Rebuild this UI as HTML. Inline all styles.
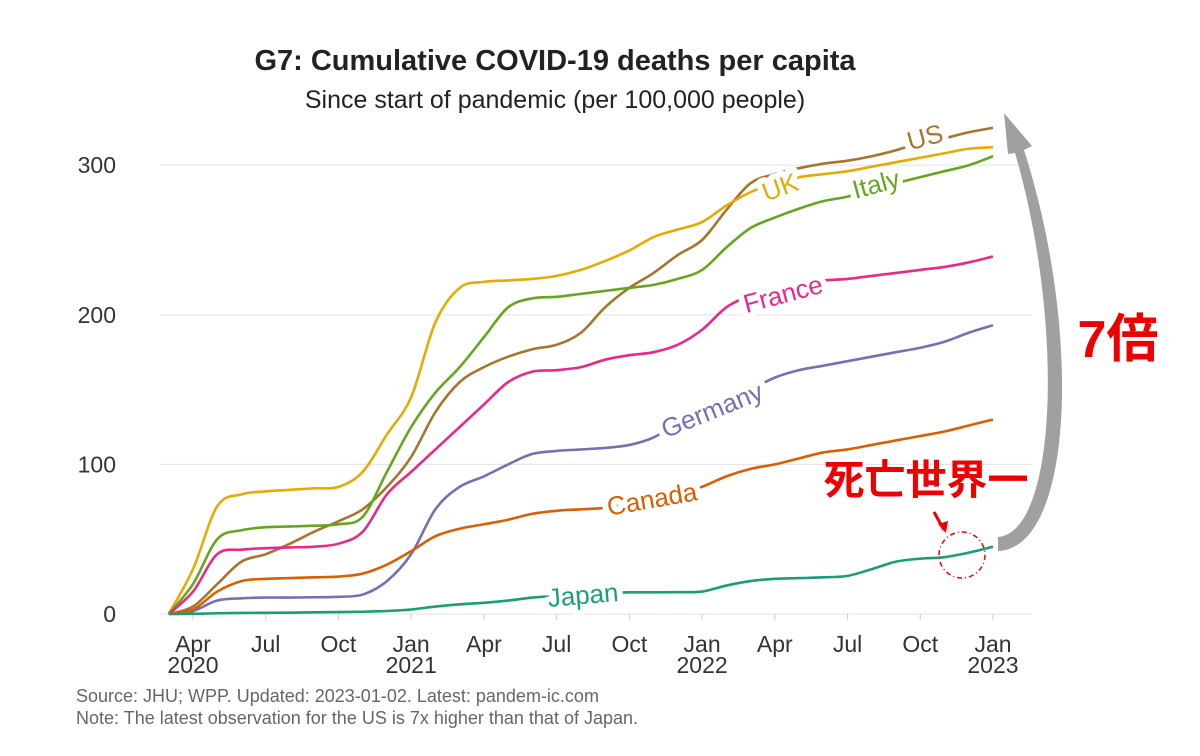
<!DOCTYPE html>
<html><head><meta charset="utf-8"><style>
body{margin:0;background:#fff}
svg{display:block;font-family:"Liberation Sans","Noto Sans CJK JP",sans-serif}
</style></head><body>
<svg width="1200" height="756" viewBox="0 0 1200 756">
<text x="555" y="70" text-anchor="middle" font-size="29" font-weight="bold" fill="#222">G7: Cumulative COVID-19 deaths per capita</text>
<text x="555" y="108" text-anchor="middle" font-size="25" fill="#222">Since start of pandemic (per 100,000 people)</text>
<g id="grid"></g><g id="axes"></g><g id="lines"></g><g id="labels"></g>
<text x="76" y="702" font-size="18" fill="#666">Source: JHU; WPP. Updated: 2023-01-02. Latest: pandem-ic.com</text>
<text x="76" y="724" font-size="18" fill="#666">Note: The latest observation for the US is 7x higher than that of Japan.</text>
<path d="M998,551 C1074,548 1082,330 1024,150 L1032,146 L1004,113 L1008,154 L1015,153 C1064,320 1058,532 998,537 Z" fill="#a0a0a0"/>
<text x="1118" y="357" text-anchor="middle" font-size="52" font-weight="bold" fill="#e00">7倍</text>
<text x="926" y="494" text-anchor="middle" font-size="41" font-weight="bold" fill="#e00">死亡世界一</text>
<path d="M934,512 L944,530" stroke="#e00" stroke-width="3"/>
<path d="M938,524 L946,533 L948,521 Z" fill="#e00"/>
<circle cx="962" cy="555" r="23" fill="none" stroke="#e00" stroke-width="1.5" stroke-dasharray="5,3,1,3"/>
</svg>
<script>
const yTicks=[0,100,200,300];
const xTickLabels=[["Apr","2020"],["Jul",""],["Oct",""],["Jan","2021"],["Apr",""],["Jul",""],["Oct",""],["Jan","2022"],["Apr",""],["Jul",""],["Oct",""],["Jan","2023"]];
const xTickMonths=[3,6,9,12,15,18,21,24,27,30,33,36];
const months=[2,3,4,5,6,7,8,9,10,11,12,13,14,15,16,17,18,19,20,21,22,23,24,25,26,27,28,29,30,31,32,33,34,35,36];
const us=[0,5,20,35,40,47,55,62,70,85,105,135,155,165,172,177,180,188,205,218,228,240,250,270,288,294,298,301,303,306,310,315,318,322,325];
const uk=[0,30,72,80,82,83,84,85,95,120,145,195,218,222,223,224,226,230,236,243,252,257,262,273,282,288,292,294,296,299,302,305,308,311,312];
const italy=[0,20,50,56,58,58.5,59,60,65,95,125,148,165,185,205,211,212,214,216,218,220,224,230,245,258,265,271,276,279,284,288,292,296,300,306];
const france=[0,15,40,43,44,44.5,45,47,55,80,95,110,125,140,155,162,163,165,170,173,175,180,190,205,213,218,221,223,224,226,228,230,232,235,239];
const germany=[0,2,9,10.5,11,11,11.2,11.5,13,22,40,70,85,92,100,107,109,110,111,113,118,128,137,143,150,158,163,166,169,172,175,178,182,188,193];
const canada=[0,3,15,22,23.5,24,24.5,25,27,33,42,52,57,60,63,67,69,70,71,74,77,80,85,92,97,100,104,108,110,113,116,119,122,126,130];
const japan=[0,0.1,0.5,0.7,0.8,0.9,1.1,1.3,1.5,2,3,5,6.5,7.5,9,11,12,12.5,14,14.5,14.5,14.6,15,19,22,23.5,24,24.5,25.5,30,35,37,38,41,45];
const seriesNames=["US","UK","Italy","France","Germany","Canada","Japan"];
const seriesData=[us,uk,italy,france,germany,canada,japan];
const colors=["#a6762c","#e6ab02","#66a61e","#e7298a","#7570b3","#d95f02","#1b9e77"];
const labelPos=[[925,146,-15],[780,196,-20],[876,193,-15],[783,303,-15],[712,419,-22],[652,508,-10],[583,604,-5]];
const X=m=>193+(m-3)*24.242, Y=v=>614-v*1.496;
const NS="http://www.w3.org/2000/svg";
function mk(t,a,p){const e=document.createElementNS(NS,t);for(const k in a)e.setAttribute(k,a[k]);p.appendChild(e);return e;}
const grid=document.getElementById('grid'),axes=document.getElementById('axes'),lines=document.getElementById('lines'),labels=document.getElementById('labels');
yTicks.forEach(v=>{
 const l=mk('line',{x1:160,x2:1032,y1:Y(v),y2:Y(v),stroke:'#e6e6e6','stroke-width':1.2},grid);
 
 
 const t=mk('text',{x:116,y:Y(v)+8,'text-anchor':'end','font-size':23,fill:'#333'},axes);t.textContent=v;
 
 
});
xTickMonths.forEach((m,i)=>{
 const tk=mk('line',{x1:X(m),x2:X(m),y1:614,y2:620,stroke:'#ccc'},axes);
 
 
 const t=mk('text',{x:X(m),y:652,'text-anchor':'middle','font-size':23,fill:'#333'},axes);t.textContent=xTickLabels[i][0];
 
 
 if(xTickLabels[i][1]){const t2=mk('text',{x:X(m),y:673,'text-anchor':'middle','font-size':23,fill:'#333'},axes);t2.textContent=xTickLabels[i][1];
 
 }
});
function smooth(pts){let d=`M${pts[0][0]},${pts[0][1]}`;for(let i=0;i<pts.length-1;i++){const p0=pts[Math.max(0,i-1)],p1=pts[i],p2=pts[i+1],p3=pts[Math.min(pts.length-1,i+2)];
 d+=` C${p1[0]+(p2[0]-p0[0])/6},${p1[1]+(p2[1]-p0[1])/6} ${p2[0]-(p3[0]-p1[0])/6},${p2[1]-(p3[1]-p1[1])/6} ${p2[0]},${p2[1]}`;}return d;}
seriesData.forEach((s,i)=>{
 const pts=s.map((v,j)=>[X(months[j]),Y(v)]);
 const p=mk('path',{d:smooth(pts),fill:'none',stroke:colors[i],'stroke-width':2.6},lines);
 
 
});
seriesNames.forEach((n,i)=>{
 const [x,y,r]=labelPos[i];
 const t=mk('text',{x:x,y:y,'text-anchor':'middle','font-size':26,fill:colors[i],stroke:'#fff','stroke-width':12,'paint-order':'stroke','stroke-linejoin':'round',transform:`rotate(${r} ${x} ${y-9})`},labels);
 t.textContent=n;
 
 
});
</script>
</body></html>
